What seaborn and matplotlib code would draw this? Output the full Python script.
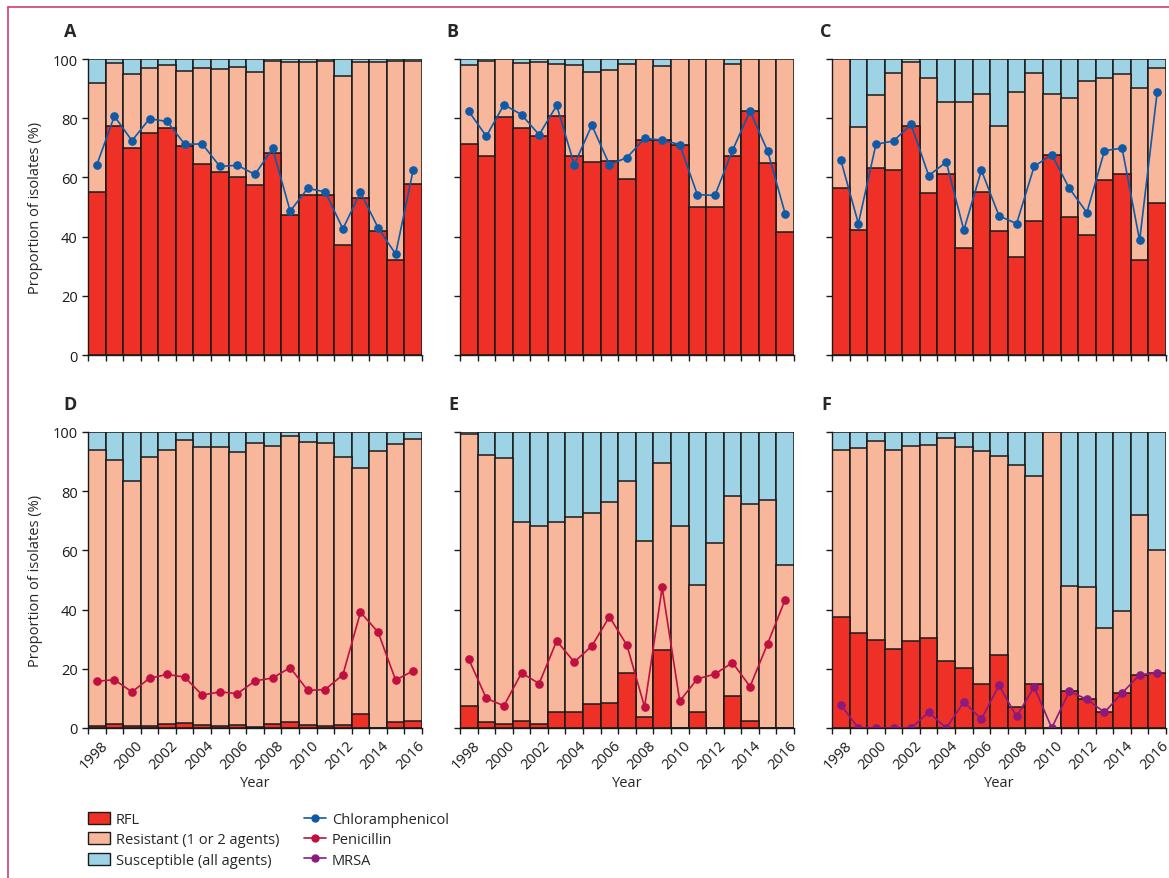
import numpy as np
import pandas as pd
import matplotlib
matplotlib.use("Agg")
import matplotlib.pyplot as plt
from matplotlib.patches import Patch
from matplotlib.lines import Line2D
import seaborn as sns

# 연도
years = np.arange(1998, 2017)

# 패널별 데이터 (%): RFL, 내성(1개 이상) 누적 상단, 선 그래프 값
rfl_A = [55.0, 77.3, 69.8, 74.9, 76.8, 70.7, 64.5, 61.7, 60.0, 57.4, 68.1, 47.2, 54.2, 54.2, 37.0, 52.9, 41.9, 32.2, 57.9]
any_A = [91.9, 98.6, 94.9, 96.8, 98.1, 96.1, 97.1, 96.7, 97.3, 95.6, 99.3, 99.1, 99.1, 99.3, 94.3, 99.0, 99.1, 99.3, 99.3]
chl_A = [64.2, 80.7, 72.4, 79.8, 78.9, 71.2, 71.3, 63.7, 64.1, 61.0, 69.8, 48.6, 56.3, 55.1, 42.6, 55.0, 43.0, 34.1, 62.5]

rfl_B = [71.3, 67.2, 80.3, 76.7, 74.0, 80.9, 67.3, 65.2, 65.4, 59.6, 72.7, 72.7, 71.1, 50.0, 50.0, 67.3, 82.4, 64.8, 41.7]
any_B = [98.0, 99.2, 100, 98.6, 98.9, 98.2, 98.0, 95.7, 96.3, 98.4, 100, 97.7, 100, 100, 100, 98.2, 100, 100, 100]
chl_B = [82.3, 73.9, 84.6, 81.2, 74.4, 84.3, 64.3, 77.6, 64.3, 66.7, 73.2, 72.6, 71.1, 54.2, 53.9, 69.1, 82.4, 68.9, 47.7]

rfl_C = [56.5, 42.2, 63.3, 62.5, 77.5, 54.6, 61.3, 36.3, 55.2, 41.9, 33.2, 45.4, 67.6, 46.5, 40.5, 59.0, 61.3, 32.2, 51.4]
any_C = [100, 76.9, 87.7, 95.4, 98.9, 93.5, 85.6, 85.6, 88.2, 77.4, 88.9, 95.4, 88.3, 86.7, 92.6, 93.5, 94.8, 90.2, 97.0]
chl_C = [65.9, 44.4, 71.2, 72.3, 77.9, 60.6, 65.2, 42.2, 62.4, 47.0, 44.4, 63.7, 67.7, 56.3, 48.1, 69.0, 69.9, 38.7, 88.9]

rfl_D = [0.8, 1.4, 0.6, 0.8, 1.4, 1.8, 0.9, 0.8, 0.9, 0.3, 1.4, 1.9, 0.9, 0.7, 1.1, 4.8, 0.0, 1.9, 2.3]
any_D = [94.0, 90.4, 83.3, 91.6, 93.9, 97.2, 94.8, 94.8, 93.1, 96.3, 95.2, 98.8, 96.7, 96.2, 91.4, 87.8, 93.7, 96.1, 97.7]
pen_D = [15.8, 16.3, 12.2, 16.8, 18.1, 17.2, 11.1, 12.2, 11.6, 15.9, 16.9, 20.4, 12.7, 13.0, 18.0, 39.1, 32.4, 16.2, 19.3]

rfl_E = [7.4, 1.9, 1.4, 2.3, 1.5, 5.5, 5.4, 8.2, 8.3, 18.6, 3.6, 26.5, 0.0, 5.5, 0.0, 10.9, 2.4, 0.0, 0.0]
any_E = [99.2, 92.2, 91.2, 69.5, 68.2, 69.5, 71.3, 72.7, 76.5, 83.4, 63.1, 89.6, 68.2, 48.2, 62.6, 78.3, 75.7, 76.9, 55.0]
pen_E = [23.2, 10.0, 7.5, 18.6, 15.0, 29.4, 22.3, 27.7, 37.6, 27.9, 7.1, 47.5, 9.1, 16.6, 18.2, 22.1, 14.0, 28.5, 43.4]

rfl_F = [37.5, 32.2, 29.6, 26.6, 29.4, 30.4, 22.5, 20.3, 14.9, 24.5, 7.1, 15.0, 0.0, 12.4, 9.7, 5.3, 11.7, 18.0, 18.6]
any_F = [94.0, 94.7, 97.0, 93.8, 95.4, 95.7, 98.1, 94.9, 93.5, 91.9, 89.0, 85.2, 100, 48.1, 47.5, 33.8, 39.4, 71.8, 60.1]
mrsa_F = [7.8, 0.0, 0.0, 0.0, 0.0, 5.3, 0.0, 8.8, 3.0, 14.4, 3.9, 13.9, 0.0, 12.4, 9.7, 5.3, 11.8, 18.0, 18.6]

c_rfl = '#ee3026'
c_res = '#f8b79b'
c_sus = '#9dd3e5'
c_chl = '#0f5aa6'
c_pen = '#c0103f'
c_mrsa = '#8b1a7f'

sns.set_style("ticks")
plt.rcParams['font.family'] = ['Open Sans', 'DejaVu Sans']
plt.rcParams['font.size'] = 10.5

fig = plt.figure(figsize=(11.69, 8.79), dpi=100)
W, H = 1169, 879

# (문자, rfl, 누적, 선, 선색, 축 왼쪽 px, 축 위 px, 문자 x px)
panels = [
    ('A', rfl_A, any_A, chl_A, c_chl, 88, 60, 70),
    ('B', rfl_B, any_B, chl_B, c_chl, 460, 60, 452),
    ('C', rfl_C, any_C, chl_C, c_chl, 832, 60, 826),
    ('D', rfl_D, any_D, pen_D, c_pen, 88, 433, 70),
    ('E', rfl_E, any_E, pen_E, c_pen, 460, 433, 453),
    ('F', rfl_F, any_F, mrsa_F, c_mrsa, 832, 433, 826),
]

yr = [str(y) for y in years]
edges = np.arange(len(years) + 1) - 0.5
edge_labels = [''] + [str(y) if y % 2 == 0 else '' for y in years]

for letter, rfl, anyr, line, lc, x0, y0, lx in panels:
    ax = fig.add_axes([x0 / W, 1 - (y0 + 296) / H, 334 / W, 296 / H])
    df = pd.DataFrame({'year': yr, 'rfl': rfl, 'any': anyr, 'total': 100.0, 'line': line})
    kw = dict(width=1.0, edgecolor='#1a1a1a', linewidth=1.1, ax=ax, order=yr)
    sns.barplot(data=df, x='year', y='total', color=c_sus, saturation=1, **kw)
    sns.barplot(data=df, x='year', y='any', color=c_res, saturation=1, **kw)
    sns.barplot(data=df, x='year', y='rfl', color=c_rfl, saturation=1, **kw)
    sns.pointplot(data=df, x='year', y='line', color=lc, ax=ax, order=yr,
                  markers='o', markersize=5.3, linewidth=1.2, errorbar=None)

    ax.set_xlim(-0.5, len(years) - 0.5)
    ax.set_ylim(0, 100)
    ax.set_yticks([0, 20, 40, 60, 80, 100])
    ax.set_xticks(edges)
    sns.despine(ax=ax)
    ax.tick_params(length=4, width=1, colors='#1a1a1a', labelsize=10.5)
    for s in ['left', 'bottom']:
        ax.spines[s].set_linewidth(1)
        ax.spines[s].set_color('#1a1a1a')

    if letter in 'DEF':
        ax.set_xticklabels(edge_labels, rotation=45, ha='right', va='center',
                           rotation_mode='anchor')
        ax.tick_params(axis='x', pad=7)
        ax.set_xlabel('Year', fontsize=10.5, labelpad=2)
    else:
        ax.set_xticklabels([])
        ax.set_xlabel('')
    if letter in 'AD':
        ax.set_ylabel('Proportion of isolates (%)', fontsize=10.5, labelpad=7)
    else:
        ax.set_yticklabels([])
        ax.set_ylabel('')

    fig.text(lx / W, 1 - (y0 - 28) / H, letter, fontsize=13, fontweight='bold',
             ha='center', va='center')

# 범례
handles = [
    Patch(facecolor=c_rfl, edgecolor='#1a1a1a', label='RFL'),
    Patch(facecolor=c_res, edgecolor='#1a1a1a', label='Resistant (1 or 2 agents)'),
    Patch(facecolor=c_sus, edgecolor='#1a1a1a', label='Susceptible (all agents)'),
    Line2D([], [], color=c_chl, marker='o', markersize=5, lw=1.2, label='Chloramphenicol'),
    Line2D([], [], color=c_pen, marker='o', markersize=5, lw=1.2, label='Penicillin'),
    Line2D([], [], color=c_mrsa, marker='o', markersize=5, lw=1.2, label='MRSA'),
]
fig.legend(handles=handles, ncol=2, loc='upper left', bbox_to_anchor=(75 / W, 1 - 800 / H),
           frameon=False, fontsize=10.5, handlelength=1.5, handleheight=0.9,
           labelspacing=0.35, columnspacing=1.7, handletextpad=0.4)

# 테두리 선
fig.add_artist(Line2D([8 / W, 1], [1 - 7.5 / H, 1 - 7.5 / H], color='#d0406e', lw=1.2))
fig.add_artist(Line2D([8 / W, 8 / W], [0, 1 - 7.5 / H], color='#d0406e', lw=1.2))

fig.savefig('out.png', dpi=100)
